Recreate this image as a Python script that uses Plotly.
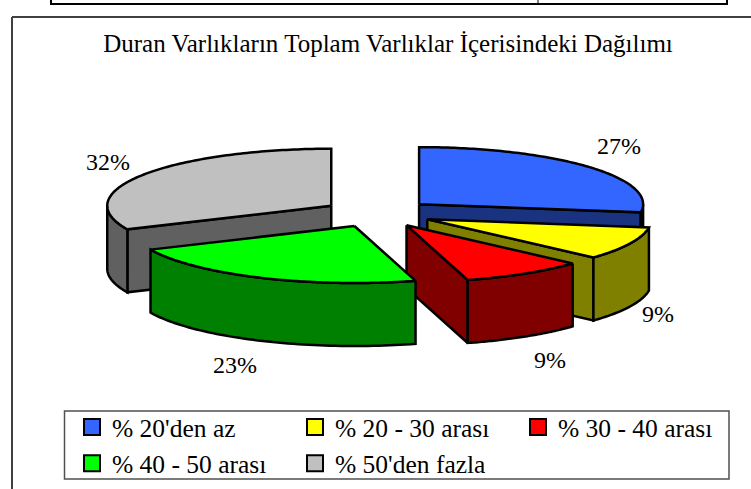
import numpy as np
import plotly.graph_objects as go

categories = ["% 20'den az", "% 20 - 30 arası", "% 30 - 40 arası", "% 40 - 50 arası", "% 50'den fazla"]
shares = [27.3, 9.4, 8.9, 22.6, 31.8]
top_colors = ["#3366FF", "#FFFF00", "#FF0000", "#00FF00", "#C0C0C0"]
side_colors = ["#1A3380", "#808000", "#800000", "#008000", "#606060"]
title_text = "Duran Varlıkların Toplam Varlıklar İçerisindeki Dağılımı"

W, H = 751, 489
RADIUS_PX = 224.0
CX, CY = 377.5, 213.3
TILT = 57.0 / 224.0
EXPLODE = 55.0 / 224.0
DEPTH = 63.0 / 224.0
FONT = "Liberation Serif"
DRAW_ORDER = [4, 0, 1, 2, 3]
LABEL_SHIFT = [(30, -21), (28, 70), (25, 86), (-25, 87), (-35, -13)]

edges = np.cumsum([0] + shares) / sum(shares) * 2 * np.pi


def rim(cx, cy, angles, dz=0.0):
    return cx + np.sin(angles), cy + np.cos(angles) * TILT - dz


def polygon(xs, ys, fill):
    return go.Scatter(x=list(xs), y=list(ys), mode="lines", fill="toself", fillcolor=fill,
                      line=dict(color="black", width=2.5, simplify=False), hoverinfo="skip", showlegend=False)


fig = go.Figure()
annotations = []

for i in DRAW_ORDER:
    s, e = edges[i], edges[i + 1]
    mid = (s + e) / 2
    cx = EXPLODE * np.sin(mid)
    cy = EXPLODE * np.cos(mid) * TILT
    # radial side wall facing the viewer
    if np.pi < s < 2 * np.pi:
        wall = s
    elif np.pi / 2 < e < np.pi:
        wall = e
    else:
        wall = None
    if wall is not None:
        px, py = rim(cx, cy, np.array([wall]))
        fig.add_trace(polygon([cx, px[0], px[0], cx, cx],
                              [cy, py[0], py[0] - DEPTH, cy - DEPTH, cy], side_colors[i]))
    # outer curved wall (front half only)
    a0, a1 = max(s, np.pi / 2), min(e, 3 * np.pi / 2)
    if a1 > a0:
        arc = np.linspace(a0, a1, 60)
        tx, ty = rim(cx, cy, arc)
        bx, by = rim(cx, cy, arc[::-1], DEPTH)
        fig.add_trace(polygon(np.r_[tx, bx, tx[0]], np.r_[ty, by, ty[0]], side_colors[i]))
    # top face
    arc = np.linspace(s, e, 120)
    tx, ty = rim(cx, cy, arc)
    fig.add_trace(polygon(np.r_[cx, tx, cx], np.r_[cy, ty, cy], top_colors[i]))
    # percent label
    lx, ly = rim(cx, cy, np.array([mid]))
    annotations.append(dict(x=lx[0], y=ly[0], xref="x", yref="y", text=f"{round(shares[i])}%",
                            showarrow=False, xshift=LABEL_SHIFT[i][0], yshift=-LABEL_SHIFT[i][1],
                            font=dict(family=FONT, size=24, color="black")))

for name, color in zip(categories, top_colors):
    fig.add_trace(go.Scatter(x=[None], y=[None], mode="markers", name=name,
                             marker=dict(symbol="square", size=16, color=color,
                                         line=dict(color="black", width=2))))

line_black = dict(color="black", width=2)
frame = dict(color="#404040", width=2)
shapes = [
    dict(type="line", xref="paper", yref="paper", x0=12 / W, x1=1, y0=1 - 17 / H, y1=1 - 17 / H, line=frame),
    dict(type="line", xref="paper", yref="paper", x0=12 / W, x1=12 / W, y0=1 - 17 / H, y1=0, line=frame),
    dict(type="line", xref="paper", yref="paper", x0=50 / W, x1=728 / W, y0=1 - 4 / H, y1=1 - 4 / H, line=line_black),
    dict(type="line", xref="paper", yref="paper", x0=51 / W, x1=51 / W, y0=1, y1=1 - 4 / H, line=line_black),
    dict(type="line", xref="paper", yref="paper", x0=538 / W, x1=538 / W, y0=1, y1=1 - 4 / H, line=dict(color="black", width=1)),
    dict(type="line", xref="paper", yref="paper", x0=727 / W, x1=727 / W, y0=1, y1=1 - 4 / H, line=line_black),
    dict(type="rect", xref="paper", yref="paper", x0=64.5 / W, x1=729 / W, y0=1 - 411 / H, y1=1 - 479 / H,
         line=dict(color="#505050", width=1.5)),
]

fig.update_layout(
    width=W, height=H, margin=dict(l=0, r=0, t=0, b=0, autoexpand=False),
    paper_bgcolor="white", plot_bgcolor="white",
    font=dict(family=FONT, color="black"),
    title=dict(text=title_text, x=388 / W, xanchor="center", y=1 - 43 / H, yanchor="middle",
               font=dict(family=FONT, size=25, color="black")),
    xaxis=dict(range=[-CX / RADIUS_PX, (W - CX) / RADIUS_PX], visible=False, fixedrange=True),
    yaxis=dict(range=[-(H - CY) / RADIUS_PX, CY / RADIUS_PX], visible=False, fixedrange=True),
    annotations=annotations,
    shapes=shapes,
    showlegend=True,
    legend=dict(orientation="h", x=72 / W, xanchor="left", y=1 - 404 / H, yanchor="top",
                borderwidth=0, bgcolor="rgba(0,0,0,0)",
                font=dict(family=FONT, size=25.5, color="black"),
                entrywidth=178, entrywidthmode="pixels", itemwidth=30, traceorder="normal"),
)

fig.write_html("out.html", post_script="document.body.style.margin='0';", config={"displayModeBar": False})
